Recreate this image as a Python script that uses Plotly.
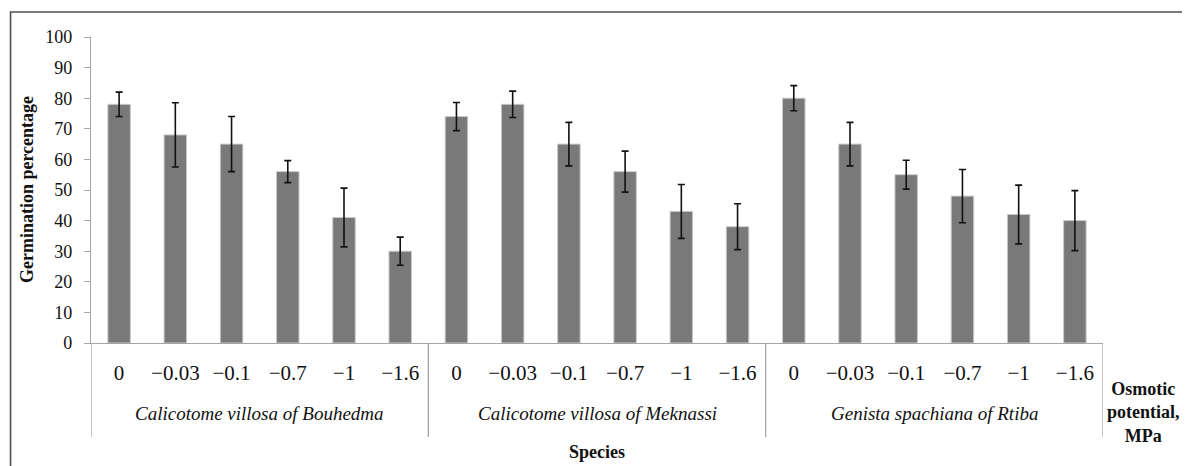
import plotly.graph_objects as go

groups = ["Calicotome villosa of Bouhedma", "Calicotome villosa of Meknassi", "Genista spachiana of Rtiba"]
potentials = ["0", "\u22120.03", "\u22120.1", "\u22120.7", "\u22121", "\u22121.6"]

germ_bouhedma = [78, 68, 65, 56, 41, 30]
err_bouhedma = [4, 10.5, 9, 3.6, 9.6, 4.6]
germ_meknassi = [74, 78, 65, 56, 43, 38]
err_meknassi = [4.6, 4.3, 7.1, 6.7, 8.8, 7.5]
germ_rtiba = [80, 65, 55, 48, 42, 40]
err_rtiba = [4.1, 7.1, 4.7, 8.7, 9.6, 9.8]

yticks = [0, 10, 20, 30, 40, 50, 60, 70, 80, 90, 100]

values = germ_bouhedma + germ_meknassi + germ_rtiba
errors = err_bouhedma + err_meknassi + err_rtiba
labels = potentials * len(groups)
xs = list(range(len(values)))

serif = "Liberation Serif, Times New Roman, serif"

fig = go.Figure()
fig.add_trace(go.Bar(
    x=xs, y=values,
    marker=dict(color="#797979", line=dict(color="#c9c9c9", width=1)),
    error_y=dict(type="data", array=errors, visible=True, color="#111111", thickness=1.6, width=3.5),
    width=0.4,
    hoverinfo="y",
))

n = len(potentials)
bottom = -0.307
shapes = []
for k in range(len(groups) + 1):
    xb = k * n - 0.5
    shapes.append(dict(type="line", xref="x", yref="paper", x0=xb, x1=xb, y0=0, y1=bottom,
                       line=dict(color="#a6a6a6", width=1.3)))
# outer border
shapes.append(dict(type="rect", xref="paper", yref="paper", x0=-0.0795, x1=1.2, y0=-0.5, y1=1.0815,
                   line=dict(color="#505050", width=1.6), fillcolor="rgba(0,0,0,0)", layer="below"))

annotations = []
for g, name in enumerate(groups):
    annotations.append(dict(x=g * n + (n - 1) / 2, y=-0.229, xref="x", yref="paper", text="<i>%s</i>" % name,
                            showarrow=False, font=dict(family=serif, size=19, color="#111111"),
                            xanchor="center", yanchor="middle"))
annotations.append(dict(x=0.5, y=-0.357, xref="paper", yref="paper", text="<b>Species</b>", showarrow=False,
                        font=dict(family=serif, size=18, color="#111111"), xanchor="center", yanchor="middle"))
annotations.append(dict(x=1.0405, y=-0.228, xref="paper", yref="paper",
                        text="<b>Osmotic<br>potential,<br>MPa</b>", showarrow=False,
                        font=dict(family=serif, size=18, color="#111111"), xanchor="center", yanchor="middle",
                        align="center"))
annotations.append(dict(x=-0.0632, y=0.5, xref="paper", yref="paper", text="<b>Germination percentage</b>",
                        showarrow=False, textangle=-90, font=dict(family=serif, size=18, color="#111111"),
                        xanchor="center", yanchor="middle"))

fig.update_layout(
    width=1182, height=458,
    margin=dict(l=83, r=87, t=29, b=123),
    paper_bgcolor="white", plot_bgcolor="white",
    showlegend=False,
    shapes=shapes, annotations=annotations,
    xaxis=dict(
        range=[-0.5, len(values) - 0.5],
        tickmode="array", tickvals=xs, ticktext=labels,
        showgrid=False, zeroline=False, showline=True, linecolor="#a6a6a6", linewidth=1.3,
        ticks="", tickfont=dict(family=serif, size=21, color="#111111"),
        ticklabelstandoff=11,
    ),
    yaxis=dict(
        range=[0, 100], tickmode="array", tickvals=yticks,
        showgrid=False, zeroline=False, showline=True, linecolor="#a6a6a6", linewidth=1.3,
        ticks="outside", ticklen=6, tickcolor="#a6a6a6", tickwidth=1.3,
        tickfont=dict(family=serif, size=18, color="#111111"),
        ticklabelstandoff=8,
    ),
)

fig.write_html("out.html")
